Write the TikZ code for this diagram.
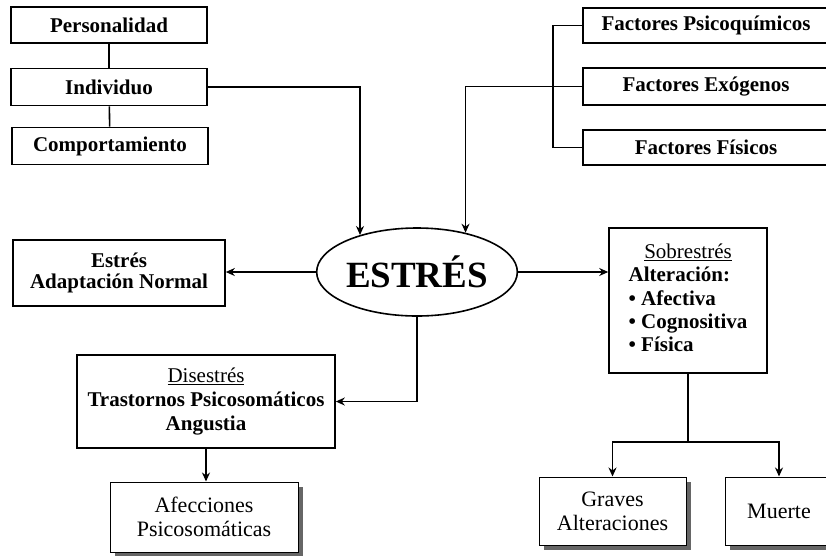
\documentclass[tikz,border=0pt]{standalone}
\usepackage{fontspec}
\setmainfont{Liberation Serif}
\usetikzlibrary{arrows.meta,shapes.geometric,shadows}

\begin{document}
\begin{tikzpicture}[
    x=1pt, y=-1pt,
    >={Stealth[length=9pt,width=8pt]},
    every node/.style={font=\fontsize{21}{24}\selectfont\bfseries},
    box/.style={draw, fill=white, line width=1.6pt, inner sep=2pt, align=center},
    shadowbox/.style={draw, fill=white, line width=1pt, align=center,
        font=\fontsize{22}{24}\selectfont,
        drop shadow={shadow xshift=5pt, shadow yshift=-5pt, fill=black!60, opacity=1}},
    link/.style={line width=1.6pt},
]

% Frame
\useasboundingbox (0,0) rectangle (826,555);
\clip (0,0) rectangle (826,555);

% Parameters
\def\wleft{196}
\def\wright{246}

% === Left column: person ===
\node[box, minimum width=\wleft, minimum height=36] (pers) at (109,25) {Personalidad};
\node[box, minimum width=\wleft, minimum height=37] (indiv) at (109,87) {Individuo};
\node[box, minimum width=\wleft, minimum height=37] (comp) at (110,146) {Comportamiento};

% === Right column: factors ===
\node[box, minimum width=\wright, minimum height=35] (fpsico) at (706,25.5) {Factores Psicoquímicos};
\node[box, minimum width=\wright, minimum height=37] (fexo) at (706,86.5) {Factores Exógenos};
\node[box, minimum width=\wright, minimum height=35] (ffis) at (706,147.5) {Factores Físicos};

% === Centre ===
\node[draw, ellipse, fill=white, line width=1.6pt, minimum width=180, minimum height=88,
    inner sep=0pt, font=\fontsize{37}{40}\selectfont\bfseries] (estres) at (417,272) {ESTRÉS};

% === Outcomes ===
\node[box, minimum width=212, minimum height=66, font=\fontsize{21}{21}\selectfont\bfseries]
    (adapt) at (119,273) {Estrés\\Adaptación Normal};
\node[box, minimum width=158, minimum height=145, font=\fontsize{21}{23.3}\selectfont\bfseries]
    (sobre) at (688,300.5) {%
    \begin{tabular}{@{}l@{}}
    \multicolumn{1}{c}{\mdseries\underline{Sobrestrés}}\\
    Alteración:\\
    • Afectiva\\
    • Cognositiva\\
    • Física
    \end{tabular}};
\node[box, minimum width=258, minimum height=93] (dis) at (206,401.5)
    {{\mdseries\underline{Disestrés}}\\Trastornos Psicosomáticos\\Angustia};

% === Final effects ===
\node[shadowbox, minimum width=188, minimum height=70] (afec) at (204,517) {Afecciones\\Psicosomáticas};
\node[shadowbox, minimum width=147, minimum height=68] (graves) at (612.5,511) {Graves\\Alteraciones};
\node[shadowbox, minimum width=108, minimum height=68] (muerte) at (779,511) {Muerte};

% === Connectors ===
\draw[link] (pers) -- (indiv);
\draw[link] (indiv) -- (comp);
\draw[link,->] (indiv.east) -| (estres.147);
\draw[link] (fpsico.west) -- ++(-29,0) |- (ffis.west);
\draw[link,->] (fexo.west) -| (estres.39);
\draw[link,->] (estres.west) -- (estres.west -| adapt.east);
\draw[link,->] (estres.east) -- (estres.east -| sobre.west);
\draw[link,->] (estres.south) |- (dis.east);
\draw[link,->] (dis.south) -- (dis.south |- afec.north);
\draw[link] (sobre.south) -- ++(0,68) coordinate (split);
\draw[link,->] (split) -| (graves.north);
\draw[link,->] (split) -| (muerte.north);

\end{tikzpicture}
\end{document}
